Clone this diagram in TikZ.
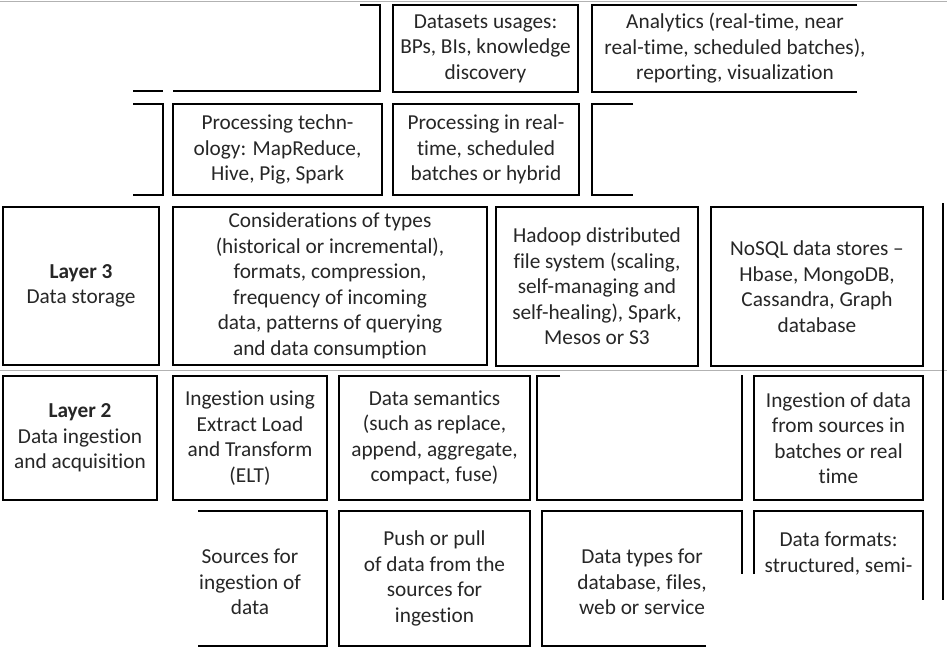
\documentclass[tikz,border=0pt]{standalone}
\usepackage{fontspec}
\setmainfont{Carlito}[Ligatures={TeX,NoCommon}]
\begin{document}
\begin{tikzpicture}[x=1pt,y=-1pt,
  box/.style={draw, line width=1.6pt, align=center, inner sep=0pt, text=black!85},
  txt/.style={align=center, inner sep=0pt, text=black!85},
  edge/.style={line width=1.6pt},
  faint/.style={draw=gray!60, line width=0.8pt},
  every node/.append style={font=\fontsize{21.3}{25.5}\selectfont}]
\useasboundingbox (0,0) rectangle (947,651);
% faint guide lines
\draw[faint] (0,1) -- (947,1);
\draw[faint] (0,370) -- (947,370);
\draw[edge] (943,203) -- (943,600);
% Row 1
\draw[edge] (360,5) -- (380,5) -- (380,91) -- (173,91);
\draw[edge] (133,91) -- (163,91);
\node[box, minimum width=185pt, minimum height=87pt] (ds) at (485.5,48.5) {Datasets usages:\\BPs, BIs, knowledge\\discovery};
\draw[edge] (857,5) -- (592,5) -- (592,92) -- (857,92);
\node[txt] (an) at (735,48.5) {Analytics (real-time, near\\real-time, scheduled batches),\\reporting, visualization};
% Row 2
\draw[edge] (133,104) -- (163,104) -- (163,195) -- (133,195);
\node[box, minimum width=209pt, minimum height=91pt] (pt) at (277.5,149.5) {Processing techn-\\ology: MapReduce,\\Hive, Pig, Spark};
\node[box, minimum width=186pt, minimum height=91pt] (pr) at (486,149.5) {Processing in real-\\time, scheduled\\batches or hybrid};
\draw[edge] (633,104) -- (592,104) -- (592,195) -- (633,195);
% Row 3
\node[box, minimum width=156pt, minimum height=158pt] (l3) at (81,286) {\textbf{Layer 3}\\Data storage};
\node[box, minimum width=314pt, minimum height=158pt] (cons) at (330,286) {Considerations of types\\(historical or incremental),\\formats, compression,\\frequency of incoming\\data, patterns of querying\\and data consumption};
\node[box, minimum width=202pt, minimum height=159pt] (hd) at (597,286.5) {Hadoop distributed\\file system (scaling,\\self-managing and\\self-healing), Spark,\\Mesos or S3};
\node[box, minimum width=212pt, minimum height=159pt] (ns) at (817,286.5) {NoSQL data stores –\\Hbase, MongoDB,\\Cassandra, Graph\\database};
% Row 4
\node[box, minimum width=154pt, minimum height=124pt] (l2) at (80,438) {\textbf{Layer 2}\\Data ingestion\\and acquisition};
\node[box, minimum width=154pt, minimum height=124pt] (elt) at (250,438) {Ingestion using\\Extract Load\\and Transform\\(ELT)};
\node[box, minimum width=191pt, minimum height=124pt] (sem) at (434.5,438) {Data semantics\\(such as replace,\\append, aggregate,\\compact, fuse)};
\draw[edge] (560,376) -- (537,376) -- (537,500) -- (742,500) -- (742,375);
\node[box, minimum width=169pt, minimum height=124pt] (ing) at (838.5,438) {Ingestion of data\\from sources in\\batches or real\\time};
% Row 5
\draw[edge] (198,511) -- (327,511) -- (327,646) -- (198,646);
\node[txt] (src) at (250,582) {Sources for\\ingestion of\\data};
\node[box, minimum width=191pt, minimum height=135pt] (push) at (434.5,578.5) {Push or pull\\of data from the\\sources for\\ingestion};
\draw[edge] (706,646) -- (542,646) -- (542,511) -- (742,511) -- (742,574);
\node[txt] (dt) at (642,582) {Data types for\\database, files,\\web or service};
\draw[edge] (754,574) -- (754,511) -- (923,511) -- (923,600);
\node[txt] (df) at (838.5,553.5) {Data formats:\\structured, semi-};
\end{tikzpicture}
\end{document}
